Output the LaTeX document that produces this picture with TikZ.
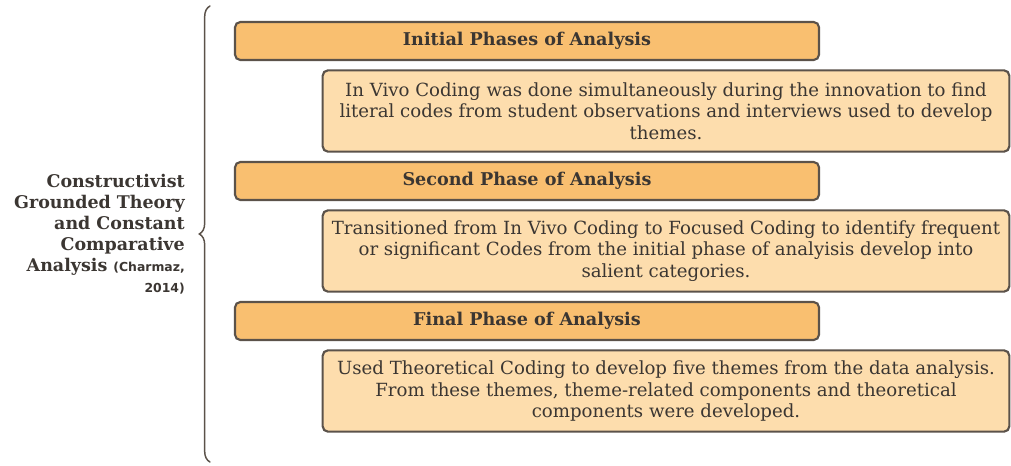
\documentclass[tikz,border=0pt]{standalone}
\usepackage{fontspec}
\setmainfont{DejaVu Serif}
\setsansfont{DejaVu Sans}
\usetikzlibrary{decorations.pathreplacing}

\definecolor{phase}{HTML}{F9BF70}
\definecolor{note}{HTML}{FDDDAD}
\definecolor{edge}{HTML}{5B524A}
\definecolor{ink}{HTML}{3B3632}

\begin{document}
\begin{tikzpicture}[x=0.75pt,y=-0.75pt,
  phasebox/.style={draw=edge,fill=phase,line width=1.6pt,rounded corners=4pt,
    minimum width=438pt,minimum height=28.5pt,inner sep=0pt,
    text=ink,font=\fontsize{13.2}{15}\selectfont\bfseries},
  notebox/.style={draw=edge,fill=note,line width=1.6pt,rounded corners=4pt,
    minimum width=515pt,minimum height=61pt,inner sep=0pt,align=center,
    text=ink,font=\fontsize{13.6}{16.2}\selectfont}]

\useasboundingbox (0,0) rectangle (1011,465);

\node[phasebox] (P1) at (527,41) {Initial Phases of Analysis};
\node[notebox] (N1) at (666,111) {In Vivo Coding was done simultaneously during the innovation to find\\
  literal codes from student observations and interviews used to develop\\
  themes.};

\node[phasebox] (P2) at (527,181) {Second Phase of Analysis};
\node[notebox] (N2) at (666,251) {Transitioned from In Vivo Coding to Focused Coding to identify frequent\\
  or significant Codes from the initial phase of analyisis develop into\\
  salient categories.};

\node[phasebox] (P3) at (527,321) {Final Phase of Analysis};
\node[notebox] (N3) at (666,391) {Used Theoretical Coding to develop five themes from the data analysis.\\
  From these themes, theme-related components and theoretical\\
  components were developed.};

\coordinate (B1) at (210,462);
\coordinate (B2) at (210,6);
\draw[edge,line width=1.1pt,line cap=round,decorate,
  decoration={brace,amplitude=8pt}] (B1) -- (B2);

\node[anchor=east,align=right,text=ink,inner sep=0pt,
  font=\fontsize{13.1}{15.8}\selectfont\bfseries] (L) at (185,234)
  {Constructivist\\ Grounded Theory\\ and Constant\\ Comparative\\
   Analysis {\sffamily\fontsize{9.3}{15.8}\selectfont (Charmaz,}\\
   {\sffamily\fontsize{9.3}{15.8}\selectfont 2014)}};

\end{tikzpicture}
\end{document}
